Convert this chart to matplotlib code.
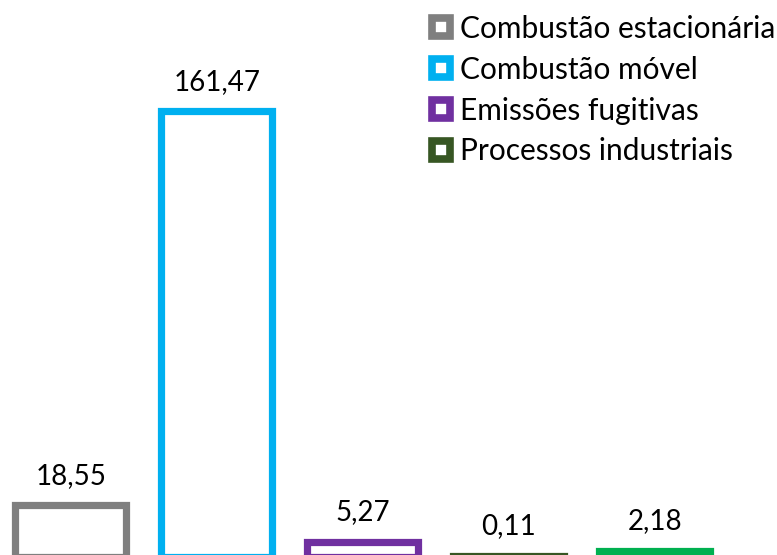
import matplotlib.pyplot as plt
from matplotlib.lines import Line2D
import numpy as np

plt.rcParams['font.family'] = ['Lato', 'DejaVu Sans']

categorias = ['Combustão estacionária', 'Combustão móvel', 'Emissões fugitivas',
              'Processos industriais', 'Outros']
valores = [18.55, 161.47, 5.27, 0.11, 2.18]
rotulos = ['18,55', '161,47', '5,27', '0,11', '2,18']
cores = ['#7F7F7F', '#00B0F0', '#7030A0', '#375623', '#00B050']

fig = plt.figure(figsize=(7.77, 5.55), dpi=100)
ax = fig.add_axes([0, 0, 1, 1])

x = np.arange(len(valores))
ax.bar(x, valores, width=0.76, facecolor='white',
       edgecolor=cores, linewidth=5.2, joinstyle='miter')

for xi, v, r in zip(x, valores, rotulos):
    ax.annotate(r, (xi, v), xytext=(0, 12), textcoords='offset points',
                ha='center', va='bottom', fontsize=20, color='black',
                annotation_clip=False)

# baseline sits just below the bottom edge of the picture
ax.set_xlim(-0.486, 4.836)
ax.set_ylim(0.55, 201.9)
ax.axis('off')

handles = [Line2D([], [], linestyle='none', marker='s', markersize=13,
                  markerfacecolor='white', markeredgecolor=c, markeredgewidth=5.5)
           for c in cores[:4]]
fig.legend(handles, categorias[:4], loc='upper left', bbox_to_anchor=(0.532, 1.0),
           frameon=False, fontsize=21.5, handlelength=0.86, handletextpad=0.19,
           labelspacing=0.43, borderpad=0.0)

fig.savefig('out.png', dpi=100)
